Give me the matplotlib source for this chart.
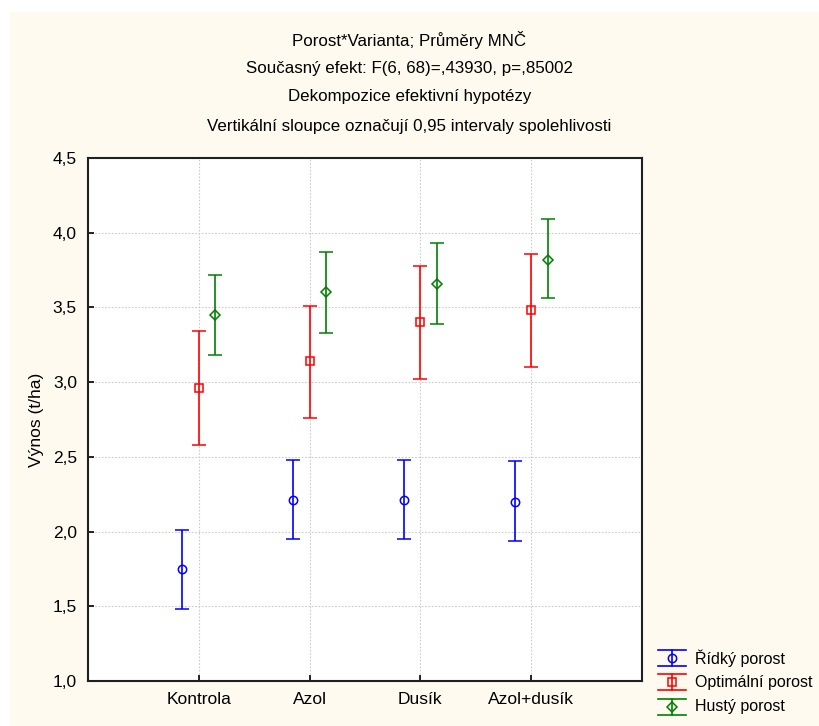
import matplotlib

matplotlib.use("Agg")
import matplotlib.pyplot as plt
from matplotlib.lines import Line2D
from matplotlib.patches import Rectangle

FONT = ["Liberation Sans Narrow", "Liberation Sans", "DejaVu Sans"]
plt.rcParams["font.family"] = FONT

CREAM = "#fefaf0"

categories = ["Kontrola", "Azol", "Dusík", "Azol+dusík"]
series = ["Řídký porost", "Optimální porost", "Hustý porost"]
colors = ["#0000ff", "#ff0000", "#008000"]
markers = ["o", "s", "D"]
offsets = [-0.15, 0.0, 0.15]

mean_ridky = [1.75, 2.21, 2.21, 2.20]
low_ridky = [1.48, 1.95, 1.95, 1.94]
high_ridky = [2.01, 2.48, 2.48, 2.47]

mean_optim = [2.96, 3.14, 3.40, 3.48]
low_optim = [2.58, 2.76, 3.02, 3.10]
high_optim = [3.34, 3.51, 3.78, 3.86]

mean_husty = [3.45, 3.60, 3.66, 3.82]
low_husty = [3.18, 3.33, 3.39, 3.56]
high_husty = [3.72, 3.87, 3.93, 4.09]

means = [mean_ridky, mean_optim, mean_husty]
lows = [low_ridky, low_optim, low_husty]
highs = [high_ridky, high_optim, high_husty]

titles = [
    "Porost*Varianta; Průměry MNČ",
    "Současný efekt: F(6, 68)=,43930, p=,85002",
    "Dekompozice efektivní hypotézy",
    "Vertikální sloupce označují 0,95 intervaly spolehlivosti",
]
yticks = [1.0, 1.5, 2.0, 2.5, 3.0, 3.5, 4.0, 4.5]
ytick_labels = ["1,0", "1,5", "2,0", "2,5", "3,0", "3,5", "4,0", "4,5"]

W, H = 819, 726
fig = plt.figure(figsize=(W / 100, H / 100), dpi=100, facecolor="white")
# cream panel behind everything (small white strip top/left)
fig.patches.append(Rectangle((10 / W, 0), 1, 1 - 12 / H, transform=fig.transFigure,
                             fc=CREAM, ec="none", zorder=-10))

ax = fig.add_axes([88 / W, 1 - 681 / H, (642 - 88) / W, (681 - 158) / H])
ax.set_facecolor("white")

for i in range(3):
    xs = [k + offsets[i] for k in range(len(categories))]
    lo = [m - l for m, l in zip(means[i], lows[i])]
    hi = [h - m for m, h in zip(means[i], highs[i])]
    ax.errorbar(xs, means[i], yerr=[lo, hi], fmt=markers[i], color=colors[i],
                mfc="none", mec=colors[i], ms=6 if i != 2 else 5, mew=1.1,
                elinewidth=1.2, capsize=5, capthick=1.2, zorder=3)

ax.set_xlim(-1, 4)
ax.set_ylim(1.0, 4.5)
ax.set_xticks(range(len(categories)))
ax.set_xticklabels(categories)
ax.set_yticks(yticks)
ax.set_yticklabels(ytick_labels)
ax.tick_params(direction="in", length=4, width=1.2, labelsize=12.5, pad=8)
ax.grid(True, color="#cccccc", linestyle=(0, (1.5, 1.5)), linewidth=0.8)
ax.set_axisbelow(True)
for s in ax.spines.values():
    s.set_linewidth(1.5)
    s.set_color("#202020")
ax.set_ylabel("Výnos (t/ha)", fontsize=12.5, labelpad=6)

title_y = [40, 69, 97, 127]
for j, t in enumerate(titles):
    fig.text(0.5, 1 - title_y[j] / H, t, ha="center", va="center", fontsize=12.2)

# legend drawn by hand in figure pixels
def fx(px):
    return px / W


def fy(py):
    return 1 - py / H


leg_y = [658, 682, 707]
for i in range(3):
    yc = leg_y[i]
    fig.add_artist(Line2D([fx(658), fx(686)], [fy(yc - 8)] * 2, color=colors[i], lw=1.2))
    fig.add_artist(Line2D([fx(658), fx(686)], [fy(yc + 8)] * 2, color=colors[i], lw=1.2))
    fig.add_artist(Line2D([fx(672)] * 2, [fy(yc - 8), fy(yc + 8)], color=colors[i], lw=1.2))
    fig.add_artist(Line2D([fx(672)], [fy(yc)], marker=markers[i], color=colors[i],
                          mfc="none", mec=colors[i], ms=6 if i != 2 else 5, mew=1.1,
                          linestyle="none"))
    fig.text(fx(695), fy(yc), series[i], ha="left", va="center", fontsize=11.5)

fig.savefig("out.png", dpi=100, facecolor="white")
